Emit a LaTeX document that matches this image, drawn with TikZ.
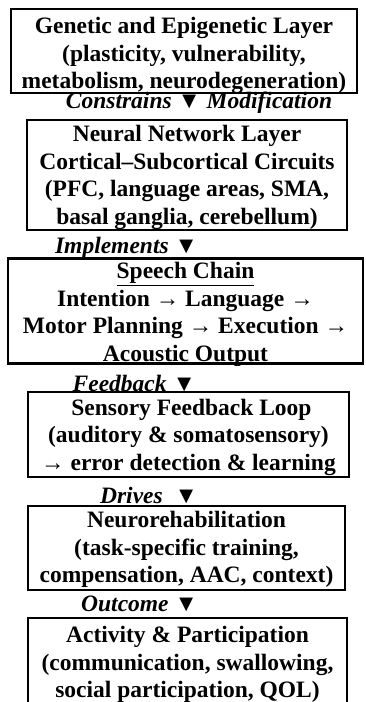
\documentclass[tikz,border=0pt]{standalone}
\usepackage{fontspec}
\setmainfont{Liberation Serif}

\tikzset{
  layerbox/.style={draw, line width=2.5pt, inner sep=0pt, align=center,
    font=\fontsize{23.5}{27.5}\selectfont\bfseries, text depth=0pt},
  linklabel/.style={inner sep=0pt, anchor=east,
    font=\fontsize{23.5}{27.5}\selectfont\bfseries\itshape}
}

\begin{document}
\begin{tikzpicture}[x=1pt, y=-1pt]
		\useasboundingbox (0,0) rectangle (366,702);
		
		% Layers (text height pushes the lines down a little)
		\node[layerbox, minimum width=346, minimum height=84, text height=75pt] (genetic) at (184,51)
			{Genetic and Epigenetic Layer\\(plasticity, vulnerability,\\metabolism, neurodegeneration)};
		\node[layerbox, minimum width=320, minimum height=110, text height=98.5pt] (network) at (187,175)
			{Neural Network Layer\\Cortical–Subcortical Circuits\\(PFC, language areas, SMA,\\basal ganglia, cerebellum)};
		\node[layerbox, minimum width=355, minimum height=105, text height=100pt] (speech) at (185.5,311)
			{\underline{Speech Chain}\\Intention → Language →\\Motor Planning → Execution →\\Acoustic Output};
		\node[layerbox, minimum width=321, minimum height=85, text height=71pt] (feedback) at (188.5,434.5)
			{\ Sensory Feedback Loop\\(auditory \& somatosensory)\\→ error detection \& learning};
		\node[layerbox, minimum width=317, minimum height=84, text height=69pt] (rehab) at (186.5,548)
			{Neurorehabilitation\\(task-specific training,\\compensation, AAC, context)};
		\node[layerbox, minimum width=319, minimum height=87, text height=72pt] (activity) at (187.5,661.5)
			{Activity \& Participation\\(communication, swallowing,\\social participation, QOL)};
		
		% Links between layers
		\node[linklabel, anchor=center] (constrains) at (199,103) {Constrains {\upshape ▼} Modification};
		\node[linklabel] (implements) at (198,248) {Implements {\upshape ▼}};
		\node[linklabel] (feedbacklink) at (196,383) {Feedback {\upshape ▼}};
		\node[linklabel] (drives) at (198,495) {Drives\ \ {\upshape ▼}};
		\node[linklabel] (outcome) at (198,604) {Outcome {\upshape ▼}};
		
	\end{tikzpicture}
\end{document}
